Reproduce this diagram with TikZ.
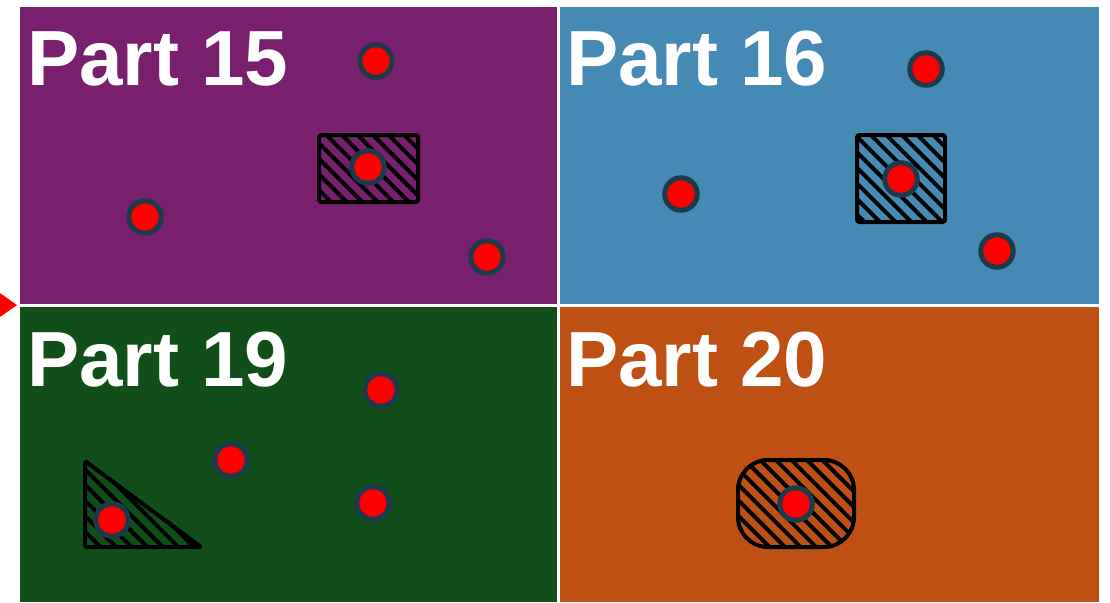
\documentclass[tikz,border=0pt]{standalone}
\usepackage{fontspec}
\usepackage{tikz}
\usetikzlibrary{patterns.meta}
\newfontfamily\partfont{Liberation Sans}
\definecolor{partpurple}{HTML}{78206E}
\definecolor{partblue}{HTML}{448AB4}
\definecolor{partgreen}{HTML}{114F1A}
\definecolor{partorange}{HTML}{BE5013}
\definecolor{dotrim}{HTML}{1C3A4C}

\begin{document}
\begin{tikzpicture}[
  x=0.2mm,y=-0.2mm,
  title/.style={anchor=base west,inner sep=0pt,text=white,
    font=\partfont\bfseries\fontsize{44.5}{44.5}\selectfont},
  dot/.style={circle,fill=red,draw=dotrim,line width=1mm,
    minimum size=6.5mm,inner sep=0pt},
  hatch/.style={draw=black,line width=0.8mm,rounded corners=0.5mm,
    pattern={Lines[angle=-45,distance=2.2mm,line width=0.8mm]},
    pattern color=black}
]
  \useasboundingbox (0,0) rectangle (1110,602);

  % the four parts
  \fill[partpurple] (20,7) rectangle (557,304);
  \fill[partblue] (560,7) rectangle (1099,304);
  \fill[partgreen] (20,307) rectangle (557,602);
  \fill[partorange] (560,307) rectangle (1099,602);

  % marker on the left edge
  \fill[red] (-3,291) -- (17,305) -- (-3,319) -- cycle;

  \node[title] (title15) at (27,85) {Part 15};
  \node[title] (title16) at (566,85) {Part 16};
  \node[title] (title19) at (27,386) {Part 19};
  \node[title] (title20) at (566,386) {Part 20};

  % hatched areas
  \draw[hatch] (319,135) rectangle (418,202);
  \draw[hatch] (857,135) rectangle (945,222);
  \draw[hatch,rounded corners=0.3mm] (85,461) -- (85,547) -- (201,547) -- cycle;
  \draw[hatch,rounded corners=6mm] (738,460) rectangle (854,547);

  % points
  \node[dot] (p15a) at (376,61) {};
  \node[dot] (p15b) at (368,167) {};
  \node[dot] (p15c) at (145,217) {};
  \node[dot] (p15d) at (487,257) {};

  \node[dot] (p16a) at (926,69) {};
  \node[dot] (p16b) at (901,179) {};
  \node[dot] (p16c) at (681,194) {};
  \node[dot] (p16d) at (997,251) {};

  \node[dot] (p19a) at (381,390) {};
  \node[dot] (p19b) at (231,460) {};
  \node[dot] (p19c) at (373,503) {};
  \node[dot] (p19d) at (112,520) {};

  \node[dot] (p20a) at (796,504) {};
\end{tikzpicture}
\end{document}
